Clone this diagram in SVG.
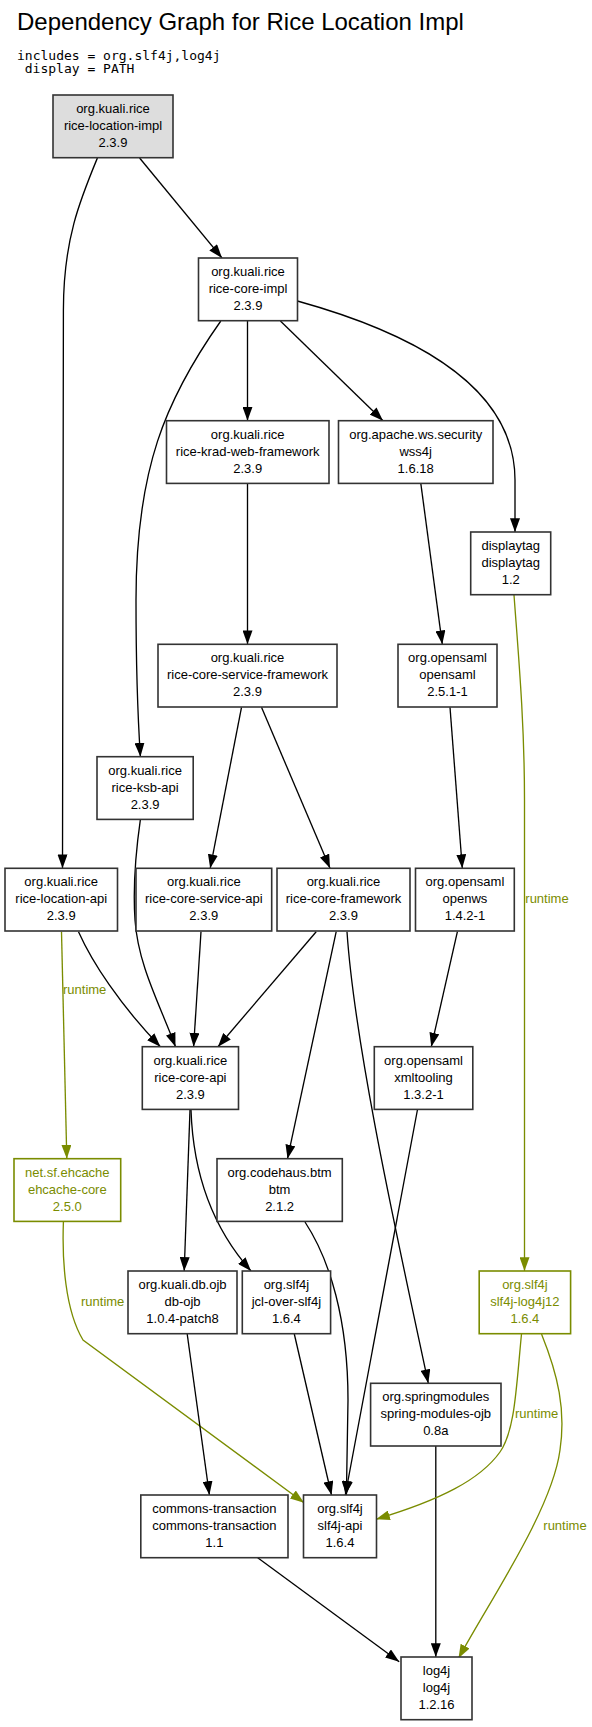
<svg xmlns="http://www.w3.org/2000/svg" width="592" height="1727" viewBox="0 0 592 1727">
<style>
.bg{fill:#ffffff}
.box{fill:#ffffff;stroke:#333333;stroke-width:1.6}
.box.root{fill:#dddddd}
.box.g{stroke:#7a8c00}
.t{font-family:"Liberation Sans",Arial,sans-serif;font-size:13px;fill:#000000;text-anchor:middle}
.t.g{fill:#7a8c00}
.lbl{font-family:"Liberation Sans",Arial,sans-serif;font-size:13px;fill:#7a8c00}
.title{font-family:"Liberation Sans",Arial,sans-serif;font-size:24px;fill:#000000}
.mono{font-family:"DejaVu Sans Mono","Liberation Mono",monospace;font-size:13px;fill:#000000}
.e{fill:none;stroke:#000000;stroke-width:1.33;marker-end:url(#ab)}
.e.g{stroke:#7a8c00;marker-end:url(#ag)}
</style>
<defs>
<marker id="ab" markerUnits="userSpaceOnUse" markerWidth="14" markerHeight="10" viewBox="0 0 13.3 9.6" refX="13.3" refY="4.8" orient="auto"><path d="M0,0 L13.3,4.8 L0,9.6 z" fill="#000000"/></marker>
<marker id="ag" markerUnits="userSpaceOnUse" markerWidth="14" markerHeight="10" viewBox="0 0 13.3 9.6" refX="13.3" refY="4.8" orient="auto"><path d="M0,0 L13.3,4.8 L0,9.6 z" fill="#7a8c00"/></marker>
</defs>
<rect class="bg" x="0" y="0" width="592" height="1727"/>
<text class="title" x="17" y="29.5">Dependency Graph for Rice Location Impl</text>
<text class="mono" x="17" y="60">includes = org.slf4j,log4j</text>
<text class="mono" x="24.8" y="73">display = PATH</text>

<g id="connectors">
<path class="e" d="M139.6,158 L222,258"/>
<path class="e" d="M97.4,158 C80,200 63.4,240 63.4,310 L62.5,868.3"/>
<path class="e" d="M247.5,321 L247.5,420.7"/>
<path class="e" d="M280.4,321 L383,420.7"/>
<path class="e" d="M297.4,301 C420,335 515,390 515,480 L515,532"/>
<path class="e" d="M220.8,321 C165,400 136,470 136,600 C136,680 138,720 140.4,756.7"/>
<path class="e" d="M247.5,483.3 L247.5,644.3"/>
<path class="e" d="M420.8,483.3 L442.3,644.3"/>
<path class="e g" d="M514,595 C518,650 524.5,720 524.5,800 L524.5,1271"/>
<path class="e" d="M241.5,707.3 L210.2,868.3"/>
<path class="e" d="M261.5,707.3 L330,868.3"/>
<path class="e" d="M450,707.3 L462.3,868.3"/>
<path class="e g" d="M61.5,931.7 L66.8,1158.7"/>
<path class="e" d="M78.5,931.7 C92,962 120,1005 160.4,1046.7"/>
<path class="e" d="M140.4,819.3 C136,850 133,890 135,920 C138,965 160,1005 175.5,1046.7"/>
<path class="e" d="M201,931.7 L193.6,1046.7"/>
<path class="e" d="M316.2,931.7 L218,1046.7"/>
<path class="e" d="M336.2,931.7 L287.5,1158.7"/>
<path class="e" d="M347,931.7 C355,1050 400,1250 428.3,1383.3"/>
<path class="e" d="M457.4,931.7 L431.3,1046.7"/>
<path class="e" d="M417.4,1110 L345.3,1495"/>
<path class="e" d="M190,1110 L184.2,1271"/>
<path class="e" d="M191,1110 C193,1170 210,1225 251,1271"/>
<path class="e" d="M305,1222 C330,1260 348,1320 348,1400 L346.4,1495"/>
<path class="e g" d="M63.4,1222 C62,1260 65,1310 83,1340 L304,1502.7"/>
<path class="e" d="M187.2,1334 L209.4,1495"/>
<path class="e" d="M294.3,1334 L331.5,1495"/>
<path class="e" d="M435.8,1446 L435.8,1657"/>
<path class="e g" d="M521.5,1334 C516,1390 515,1430 500,1452 C480,1480 440,1500 376,1519.3"/>
<path class="e g" d="M541.5,1334 C558,1375 566,1410 560,1450 C552,1510 490,1600 458.5,1658.3"/>
<path class="e" d="M257.7,1557.7 L399.2,1661.7"/>
<text class="lbl" x="525.3" y="903">runtime</text>
<text class="lbl" x="63" y="994">runtime</text>
<text class="lbl" x="81" y="1306">runtime</text>
<text class="lbl" x="515" y="1418">runtime</text>
<text class="lbl" x="543.3" y="1530">runtime</text>
</g>

<g id="rice-location-impl"><rect class="box root" x="53" y="95" width="120" height="62.7"/><text class="t" x="113" y="113">org.kuali.rice</text><text class="t" x="113" y="130">rice-location-impl</text><text class="t" x="113" y="147">2.3.9</text></g>
<g id="rice-core-impl"><rect class="box" x="198.5" y="258" width="99" height="62.7"/><text class="t" x="248" y="276">org.kuali.rice</text><text class="t" x="248" y="293">rice-core-impl</text><text class="t" x="248" y="310">2.3.9</text></g>
<g id="rice-krad-web-framework"><rect class="box" x="166.5" y="420.7" width="162.5" height="62.7"/><text class="t" x="247.7" y="438.7">org.kuali.rice</text><text class="t" x="247.7" y="455.7">rice-krad-web-framework</text><text class="t" x="247.7" y="472.7">2.3.9</text></g>
<g id="wss4j"><rect class="box" x="338.5" y="420.7" width="154.5" height="62.7"/><text class="t" x="415.7" y="438.7">org.apache.ws.security</text><text class="t" x="415.7" y="455.7">wss4j</text><text class="t" x="415.7" y="472.7">1.6.18</text></g>
<g id="displaytag"><rect class="box" x="470.7" y="532" width="80" height="62.7"/><text class="t" x="510.7" y="550">displaytag</text><text class="t" x="510.7" y="567">displaytag</text><text class="t" x="510.7" y="584">1.2</text></g>
<g id="rice-core-service-framework"><rect class="box" x="158" y="644.3" width="179" height="62.7"/><text class="t" x="247.5" y="662.3">org.kuali.rice</text><text class="t" x="247.5" y="679.3">rice-core-service-framework</text><text class="t" x="247.5" y="696.3">2.3.9</text></g>
<g id="opensaml"><rect class="box" x="398" y="644.3" width="99" height="62.7"/><text class="t" x="447.5" y="662.3">org.opensaml</text><text class="t" x="447.5" y="679.3">opensaml</text><text class="t" x="447.5" y="696.3">2.5.1-1</text></g>
<g id="rice-ksb-api"><rect class="box" x="97" y="756.7" width="96.2" height="62.7"/><text class="t" x="145.1" y="774.7">org.kuali.rice</text><text class="t" x="145.1" y="791.7">rice-ksb-api</text><text class="t" x="145.1" y="808.7">2.3.9</text></g>
<g id="rice-location-api"><rect class="box" x="5" y="868.3" width="112.5" height="62.7"/><text class="t" x="61.2" y="886.3">org.kuali.rice</text><text class="t" x="61.2" y="903.3">rice-location-api</text><text class="t" x="61.2" y="920.3">2.3.9</text></g>
<g id="rice-core-service-api"><rect class="box" x="136" y="868.3" width="135.7" height="62.7"/><text class="t" x="203.8" y="886.3">org.kuali.rice</text><text class="t" x="203.8" y="903.3">rice-core-service-api</text><text class="t" x="203.8" y="920.3">2.3.9</text></g>
<g id="rice-core-framework"><rect class="box" x="277" y="868.3" width="133" height="62.7"/><text class="t" x="343.5" y="886.3">org.kuali.rice</text><text class="t" x="343.5" y="903.3">rice-core-framework</text><text class="t" x="343.5" y="920.3">2.3.9</text></g>
<g id="openws"><rect class="box" x="415.5" y="868.3" width="98.8" height="62.7"/><text class="t" x="464.9" y="886.3">org.opensaml</text><text class="t" x="464.9" y="903.3">openws</text><text class="t" x="464.9" y="920.3">1.4.2-1</text></g>
<g id="rice-core-api"><rect class="box" x="142.3" y="1046.7" width="96.2" height="62.7"/><text class="t" x="190.4" y="1064.7">org.kuali.rice</text><text class="t" x="190.4" y="1081.7">rice-core-api</text><text class="t" x="190.4" y="1098.7">2.3.9</text></g>
<g id="xmltooling"><rect class="box" x="374.3" y="1046.7" width="98.5" height="62.7"/><text class="t" x="423.5" y="1064.7">org.opensaml</text><text class="t" x="423.5" y="1081.7">xmltooling</text><text class="t" x="423.5" y="1098.7">1.3.2-1</text></g>
<g id="ehcache-core"><rect class="box g" x="14" y="1158.7" width="106.7" height="62.7"/><text class="t g" x="67.3" y="1176.7">net.sf.ehcache</text><text class="t g" x="67.3" y="1193.7">ehcache-core</text><text class="t g" x="67.3" y="1210.7">2.5.0</text></g>
<g id="btm"><rect class="box" x="217" y="1158.7" width="125.3" height="62.7"/><text class="t" x="279.6" y="1176.7">org.codehaus.btm</text><text class="t" x="279.6" y="1193.7">btm</text><text class="t" x="279.6" y="1210.7">2.1.2</text></g>
<g id="db-ojb"><rect class="box" x="128" y="1271" width="109" height="62.7"/><text class="t" x="182.5" y="1289">org.kuali.db.ojb</text><text class="t" x="182.5" y="1306">db-ojb</text><text class="t" x="182.5" y="1323">1.0.4-patch8</text></g>
<g id="jcl-over-slf4j"><rect class="box" x="242.3" y="1271" width="88.3" height="62.7"/><text class="t" x="286.4" y="1289">org.slf4j</text><text class="t" x="286.4" y="1306">jcl-over-slf4j</text><text class="t" x="286.4" y="1323">1.6.4</text></g>
<g id="slf4j-log4j12"><rect class="box g" x="479.2" y="1271" width="91.4" height="62.7"/><text class="t g" x="524.9" y="1289">org.slf4j</text><text class="t g" x="524.9" y="1306">slf4j-log4j12</text><text class="t g" x="524.9" y="1323">1.6.4</text></g>
<g id="spring-modules-ojb"><rect class="box" x="370.6" y="1383.3" width="130.4" height="62.7"/><text class="t" x="435.8" y="1401.3">org.springmodules</text><text class="t" x="435.8" y="1418.3">spring-modules-ojb</text><text class="t" x="435.8" y="1435.3">0.8a</text></g>
<g id="commons-transaction"><rect class="box" x="140.8" y="1495" width="147.2" height="62.7"/><text class="t" x="214.4" y="1513">commons-transaction</text><text class="t" x="214.4" y="1530">commons-transaction</text><text class="t" x="214.4" y="1547">1.1</text></g>
<g id="slf4j-api"><rect class="box" x="303.5" y="1495" width="73" height="62.7"/><text class="t" x="340" y="1513">org.slf4j</text><text class="t" x="340" y="1530">slf4j-api</text><text class="t" x="340" y="1547">1.6.4</text></g>
<g id="log4j"><rect class="box" x="401" y="1657" width="71" height="62.7"/><text class="t" x="436.5" y="1675">log4j</text><text class="t" x="436.5" y="1692">log4j</text><text class="t" x="436.5" y="1709">1.2.16</text></g>
</svg>
